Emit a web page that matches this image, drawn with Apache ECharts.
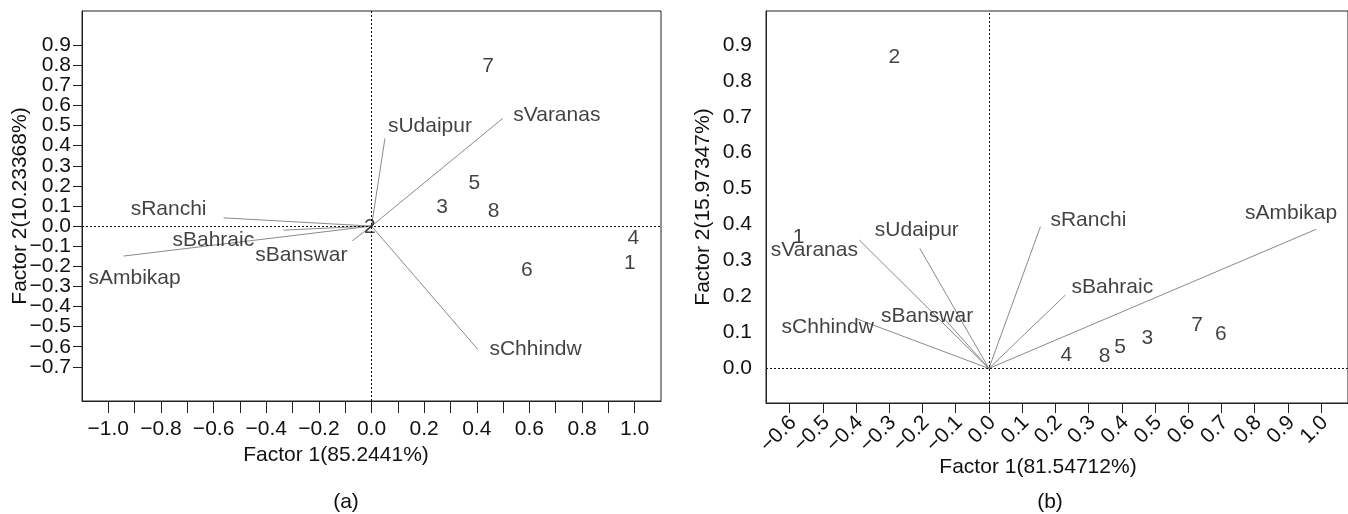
<!DOCTYPE html>
<html>
<head>
<meta charset="utf-8">
<title>Factor biplots</title>
<script src="https://cdn.jsdelivr.net/npm/echarts@6/dist/echarts.min.js"></script>
<style>
  html, body { margin: 0; padding: 0; background: #fff; }
  #chart { width: 1348px; height: 514px; }
</style>
</head>
<body>
<div id="chart"></div>
<script>
// Site scores (labels 1-8) and station loadings for the two factor solutions
const sites = ['1', '2', '3', '4', '5', '6', '7', '8'];
const stations = ['sUdaipur', 'sVaranas', 'sChhindw', 'sRanchi', 'sBahraic', 'sAmbikap', 'sBanswar'];

// Panel (a)
const siteAx = [0.982, -0.006, 0.268, 0.995, 0.391, 0.590, 0.443, 0.464];
const siteAy = [-0.183, -0.003, 0.093, -0.058, 0.215, -0.219, 0.797, 0.076];
const loadAx = [0.051, 0.499, 0.403, -0.562, -0.335, -0.942, -0.073];
const loadAy = [0.436, 0.536, -0.612, 0.041, -0.020, -0.149, -0.073];

// Panel (b)
const siteBx = [-0.573, -0.285, 0.477, 0.233, 0.395, 0.698, 0.627, 0.348];
const siteBy = [0.366, 0.865, 0.085, 0.037, 0.060, 0.095, 0.120, 0.034];
const loadBx = [-0.208, -0.390, -0.395, 0.155, 0.230, 0.985, -0.135];
const loadBy = [0.334, 0.357, 0.137, 0.394, 0.204, 0.387, 0.139];

// Tick marks and tick labels
const tickXA = [-1.0, -0.9, -0.8, -0.7, -0.6, -0.5, -0.4, -0.3, -0.2, -0.1, 0.0, 0.1, 0.2, 0.3, 0.4, 0.5, 0.6, 0.7, 0.8, 0.9, 1.0];
const labelXA = [-1.0, -0.8, -0.6, -0.4, -0.2, 0.0, 0.2, 0.4, 0.6, 0.8, 1.0];
const tickYA = [-0.7, -0.6, -0.5, -0.4, -0.3, -0.2, -0.1, 0.0, 0.1, 0.2, 0.3, 0.4, 0.5, 0.6, 0.7, 0.8, 0.9];
const tickXB = [-0.6, -0.5, -0.4, -0.3, -0.2, -0.1, 0.0, 0.1, 0.2, 0.3, 0.4, 0.5, 0.6, 0.7, 0.8, 0.9, 1.0];
const tickYB = [0.0, 0.1, 0.2, 0.3, 0.4, 0.5, 0.6, 0.7, 0.8, 0.9];

// Axis titles
const titleXA = 'Factor 1(85.2441%)';
const titleYA = 'Factor 2(10.23368%)';
const titleXB = 'Factor 1(81.54712%)';
const titleYB = 'Factor 2(15.97347%)';

// Pixel nudges for the station names around each loading tip
const nudgeA = { sUdaipur: [45, -12], sVaranas: [54, -3], sChhindw: [58, 0], sRanchi: [-55, -9], sBahraic: [-70, 10], sAmbikap: [11, 22], sBanswar: [-51, 14] };
const nudgeB = { sUdaipur: [-3, -18], sVaranas: [-45, 10], sChhindw: [-30, 8], sRanchi: [48, -7], sBahraic: [47, -8], sAmbikap: [-25, -16], sBanswar: [-17, -2] };

const FONT = 'Liberation Sans, Arial, Helvetica, sans-serif';
const TXT = '#111';
const fmt = v => Number(v).toFixed(1).replace('-', '\u2212');
// Densely packed tick labels are split over two stacked copies of an axis
// so that no neighbouring labels get culled by the overlap check.
const evens = arr => arr.filter((v, i) => i % 2 === 0);
const odds = arr => arr.filter((v, i) => i % 2 === 1);

function panelSeries(idx, sx, sy, lx, ly, nudge) {
  const textStyle = { show: true, position: 'inside', color: TXT, fontFamily: FONT, fontSize: 21 };
  return [
    {
      type: 'lines', coordinateSystem: 'cartesian2d', xAxisIndex: idx, yAxisIndex: idx,
      silent: true, z: 2,
      lineStyle: { color: '#8a8a8a', width: 1, opacity: 1 },
      data: stations.map((s, i) => ({ coords: [[0, 0], [lx[i], ly[i]]] })),
      markLine: {
        silent: true, symbol: 'none', label: { show: false }, animation: false,
        lineStyle: { color: '#111', width: 1, type: [2, 2] },
        data: [{ xAxis: 0 }, { yAxis: 0 }]
      }
    },
    {
      type: 'scatter', xAxisIndex: idx, yAxisIndex: idx, silent: true, z: 3,
      symbolSize: 1, itemStyle: { color: 'transparent' },
      label: Object.assign({ formatter: p => p.name }, textStyle),
      data: stations.map((s, i) => ({ name: s, value: [lx[i], ly[i]], label: { offset: nudge[s] } }))
    },
    {
      type: 'scatter', xAxisIndex: idx, yAxisIndex: idx, silent: true, z: 4,
      symbolSize: 1, itemStyle: { color: 'transparent' },
      label: Object.assign({ formatter: p => p.name }, textStyle),
      data: sites.map((s, i) => ({ name: s, value: [sx[i], sy[i]] }))
    }
  ];
}

const axisText = { color: TXT, fontFamily: FONT, fontSize: 21, showMinLabel: true, showMaxLabel: true };
const frame = { show: true, onZero: false, lineStyle: { color: '#222', width: 1 } };
const noLine = { show: false, onZero: false };
const tickStyle = { color: '#222', width: 1 };

function xAxisB(values, withLine) {
  return {
    gridIndex: 1, type: 'value', position: 'bottom', min: -0.671, max: 1.081,
    axisLine: withLine ? frame : noLine,
    axisTick: { show: true, length: 10, lineStyle: tickStyle, customValues: values },
    axisLabel: Object.assign({ margin: 20, rotate: 45, padding: [14, -5, 0, 0], formatter: fmt, customValues: values }, axisText),
    splitLine: { show: false }
  };
}
function yAxisA(values, withLine) {
  return {
    gridIndex: 0, type: 'value', position: 'left', min: -0.87, max: 1.07,
    axisLine: withLine ? frame : noLine,
    axisTick: { show: true, length: 9, lineStyle: tickStyle, customValues: values },
    axisLabel: Object.assign({ margin: 11, formatter: fmt, customValues: values }, axisText),
    splitLine: { show: false }
  };
}

const option = {
  animation: false,
  backgroundColor: '#fff',
  grid: [
    { left: 82, top: 11, width: 579, height: 390, show: true, borderColor: '#222', borderWidth: 1, backgroundColor: 'transparent' },
    { left: 766, top: 11, right: -2, height: 392, show: true, borderColor: '#222', borderWidth: 1, backgroundColor: 'transparent' }
  ],
  xAxis: [
    {
      gridIndex: 0, type: 'value', position: 'bottom', min: -1.1, max: 1.1,
      axisLine: frame,
      axisTick: { show: true, length: 12, lineStyle: tickStyle, customValues: tickXA },
      axisLabel: Object.assign({ margin: 18, formatter: fmt, customValues: labelXA }, axisText),
      splitLine: { show: false }
    },
    xAxisB(evens(tickXB), true),
    xAxisB(odds(tickXB), false)
  ],
  yAxis: [
    yAxisA(evens(tickYA), true),
    {
      gridIndex: 1, type: 'value', position: 'left', min: -0.096, max: 0.994,
      axisLine: frame,
      axisTick: { show: false },
      axisLabel: Object.assign({ margin: 14, formatter: fmt, customValues: tickYB }, axisText),
      splitLine: { show: false }
    },
    yAxisA(odds(tickYA), false)
  ],
  graphic: [
    { type: 'text', x: 336, y: 455, style: { text: titleXA, fill: TXT, font: '21px ' + FONT, textAlign: 'center', textVerticalAlign: 'middle' } },
    { type: 'text', x: 20, y: 206, rotation: Math.PI / 2, style: { text: titleYA, fill: TXT, font: '21px ' + FONT, textAlign: 'center', textVerticalAlign: 'middle' } },
    { type: 'text', x: 346, y: 502, style: { text: '(a)', fill: TXT, font: '21px ' + FONT, textAlign: 'center', textVerticalAlign: 'middle' } },
    { type: 'text', x: 1038, y: 467, style: { text: titleXB, fill: TXT, font: '21px ' + FONT, textAlign: 'center', textVerticalAlign: 'middle' } },
    { type: 'text', x: 703, y: 207, rotation: Math.PI / 2, style: { text: titleYB, fill: TXT, font: '21px ' + FONT, textAlign: 'center', textVerticalAlign: 'middle' } },
    { type: 'text', x: 1050, y: 502, style: { text: '(b)', fill: TXT, font: '21px ' + FONT, textAlign: 'center', textVerticalAlign: 'middle' } }
  ],
  series: [].concat(
    panelSeries(0, siteAx, siteAy, loadAx, loadAy, nudgeA),
    panelSeries(1, siteBx, siteBy, loadBx, loadBy, nudgeB)
  )
};

const chart = echarts.init(document.getElementById('chart'), null, { renderer: 'canvas' });
chart.setOption(option);
</script>
</body>
</html>
